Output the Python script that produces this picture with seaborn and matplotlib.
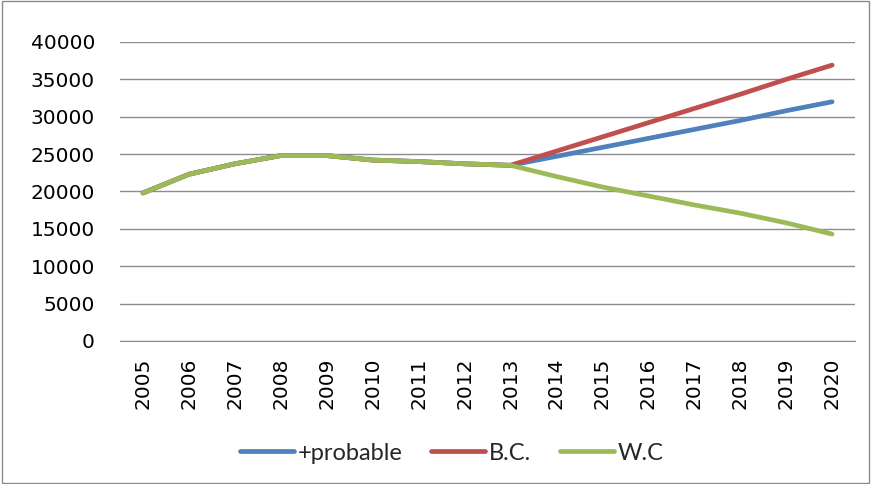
import matplotlib
matplotlib.use("Agg")
import matplotlib.pyplot as plt
import seaborn as sns
import pandas as pd
from matplotlib.patches import Rectangle

years = list(range(2005, 2021))
probable = [19800, 22300, 23700, 24800, 24800, 24200, 24000, 23700, 23500,
            24700, 25900, 27100, 28300, 29500, 30800, 32000]
bc = [19800, 22300, 23700, 24800, 24800, 24200, 24000, 23700, 23500,
      25400, 27300, 29200, 31100, 33000, 35000, 36900]
wc = [19800, 22300, 23700, 24800, 24800, 24200, 24000, 23700, 23500,
      22000, 20600, 19400, 18200, 17100, 15800, 14300]
names = ['+probable', 'B.C.', 'W.C']
colors = ['#4F81BD', '#C0504D', '#9BBB59']

rows = []
for name, vals in zip(names, [probable, bc, wc]):
    for i, v in enumerate(vals):
        rows.append({'idx': i, 'value': v, 'serie': name})
df = pd.DataFrame(rows)

sns.set_style("white")
plt.rcParams['font.family'] = ['DejaVu Sans']

fig = plt.figure(figsize=(8.72, 4.84), dpi=100)
ax = fig.add_axes([0.1376, 0.2955, 0.843, 0.6178])

sns.lineplot(data=df, x='idx', y='value', hue='serie', palette=colors,
             linewidth=3.4, ax=ax, legend=True, solid_capstyle='round')

ax.set_xlim(-0.5, 15.5)
ax.set_ylim(0, 40000)
ax.set_yticks(range(0, 40001, 5000))
ax.set_xticks(range(len(years)))
ax.set_xticklabels([str(y) for y in years], rotation=90)
ax.tick_params(axis='both', labelsize=14.5, length=0, colors='black')
ax.tick_params(axis='x', pad=12)
ax.tick_params(axis='y', pad=18)
ax.grid(axis='y', color='#8c8c8c', linewidth=1)
ax.set_axisbelow(True)
for s in ['top', 'right', 'left']:
    ax.spines[s].set_visible(False)
ax.spines['bottom'].set_color('#8c8c8c')
ax.set_xlabel('')
ax.set_ylabel('')

handles, labels = ax.get_legend_handles_labels()
ax.legend(handles, labels, loc='center', bbox_to_anchor=(0.518, 0.064), bbox_transform=fig.transFigure,
          ncol=3, frameon=False, handlelength=2.3, handletextpad=0.15,
          columnspacing=1.2, prop={'family': ['Lato', 'DejaVu Sans'], 'size': 17})

fig.patches.append(Rectangle((0.002, 0.003), 0.995, 0.994, transform=fig.transFigure,
                             fill=False, edgecolor='#8c8c8c', linewidth=1))

fig.savefig('out.png', dpi=100)
